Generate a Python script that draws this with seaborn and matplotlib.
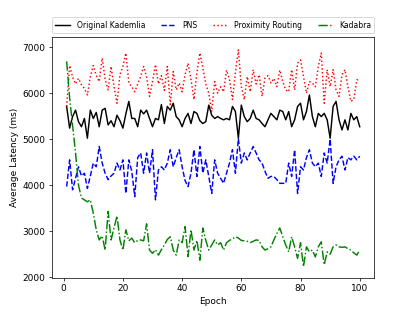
import numpy as np
import pandas as pd
import seaborn as sns
import matplotlib.pyplot as plt

epochs = list(range(1, 101))

original_kademlia = [
    5710, 5240, 5490, 5630, 5380, 5270, 5450, 5020, 5630, 5450,
    5580, 5270, 5630, 5670, 5310, 5400, 5270, 5520, 5400, 5240,
    5550, 5820, 5450, 5450, 5270, 5630, 5550, 5630, 5450, 5270,
    5450, 5420, 5750, 5340, 5710, 5630, 5780, 5490, 5420, 5270,
    5450, 5560, 5340, 5600, 5560, 5400, 5340, 5380, 5740, 5520,
    5450, 5490, 5450, 5420, 5450, 5420, 5710, 5600, 5020, 5740,
    5490, 5380, 5450, 5630, 5450, 5420, 5340, 5270, 5420, 5560,
    5490, 5420, 5630, 5600, 5420, 5600, 5270, 5420, 5710, 5780,
    5420, 5600, 5960, 5490, 5270, 5560, 5490, 5560, 5420, 5020,
    5710, 5820, 5420, 5200, 5420, 5200, 5560, 5420, 5490, 5270,
]

pns = [
    3970, 4550, 3900, 4150, 4400, 4200, 4260, 3930, 4200, 4480,
    4400, 4840, 4480, 4260, 4120, 4200, 4260, 4480, 4330, 4550,
    3820, 4550, 4300, 3750, 4600, 4700, 4260, 4700, 4260, 4770,
    3680, 4330, 4400, 4330, 4480, 4770, 4400, 4600, 4770, 4400,
    4100, 3970, 4260, 4770, 4190, 4840, 4260, 4550, 4190, 3820,
    4550, 4260, 4150, 4040, 4260, 4480, 4770, 4260, 5010, 4480,
    4700, 4550, 4700, 4840, 4700, 4550, 4480, 4300, 4150, 4190,
    4190, 4120, 4040, 4040, 4040, 4480, 4190, 4770, 3820, 4400,
    4330, 4600, 4770, 4480, 4400, 4480, 4190, 4700, 4480, 5000,
    4040, 4400, 4550, 4630, 4330, 4600, 4550, 4630, 4550, 4630,
]

proximity_routing = [
    5710, 6600, 6350, 6200, 6320, 6180, 6100, 5960, 6360, 6600,
    6380, 6250, 6760, 6300, 6070, 6580, 6140, 5780, 6400, 6580,
    6870, 6220, 6140, 6030, 6200, 6360, 6580, 6350, 5930, 6250,
    6620, 6200, 6380, 6060, 6580, 5750, 6470, 6070, 6220, 6030,
    6400, 6650, 6300, 5860, 6450, 6870, 6550, 6200, 6000, 5600,
    6250, 6000, 6140, 6030, 6500, 6300, 5860, 6450, 6940, 6140,
    5860, 6360, 6030, 6510, 6200, 6400, 5930, 6330, 6380, 6220,
    6320, 6140, 6500, 6250, 6070, 6030, 6510, 6070, 6650, 6720,
    6360, 6000, 6250, 6220, 6140, 6580, 6870, 5780, 6510, 6140,
    6510, 6070, 5930, 6400, 6510, 6140, 5820, 5860, 6290, 6290,
]

kadabra = [
    6690, 5900, 5300, 4700, 4000, 3720, 3680, 3640, 3680, 3390,
    3030, 2810, 2900, 2590, 3430, 2810, 3070, 3330, 2810, 2590,
    3030, 2790, 2850, 2750, 2800, 2810, 2790, 3160, 2590, 2520,
    2600, 2480, 2600, 2700, 2820, 2880, 2590, 2480, 2810, 2750,
    3100, 2450, 3030, 2590, 2800, 2370, 3070, 2800, 2590, 2700,
    2810, 2700, 2750, 2590, 2750, 2800, 2830, 2880, 2850, 2800,
    2790, 2780, 2750, 2780, 2810, 2800, 2660, 2590, 2620, 2660,
    2810, 2950, 3070, 2880, 2700, 2550, 2880, 2660, 2410, 2750,
    2230, 2660, 2550, 2590, 2440, 2660, 2770, 2270, 2550, 2500,
    2660, 2700, 2660, 2650, 2660, 2620, 2590, 2530, 2480, 2590,
]

series = [
    ("Original Kademlia", original_kademlia, "black", "-"),
    ("PNS", pns, "blue", "--"),
    ("Proximity Routing", proximity_routing, "red", ":"),
    ("Kadabra", kadabra, "green", "-."),
]

fig, ax = plt.subplots(figsize=(6.4, 4.8), dpi=65)

for name, values, color, ls in series:
    df = pd.DataFrame({"Epoch": epochs, "Latency": values})
    sns.lineplot(data=df, x="Epoch", y="Latency", color=color, linestyle=ls,
                 linewidth=1.6, label=name, ax=ax)

ax.set_ylim(1990, 7210)
ax.set_xlabel("Epoch")
ax.set_ylabel("Average Latency (ms)")
ax.legend(loc="lower left", bbox_to_anchor=(0, 1.02, 1, 0.102), ncol=4,
          mode="expand", borderaxespad=0, fontsize=8.5)

plt.savefig("out.png", dpi=65)
